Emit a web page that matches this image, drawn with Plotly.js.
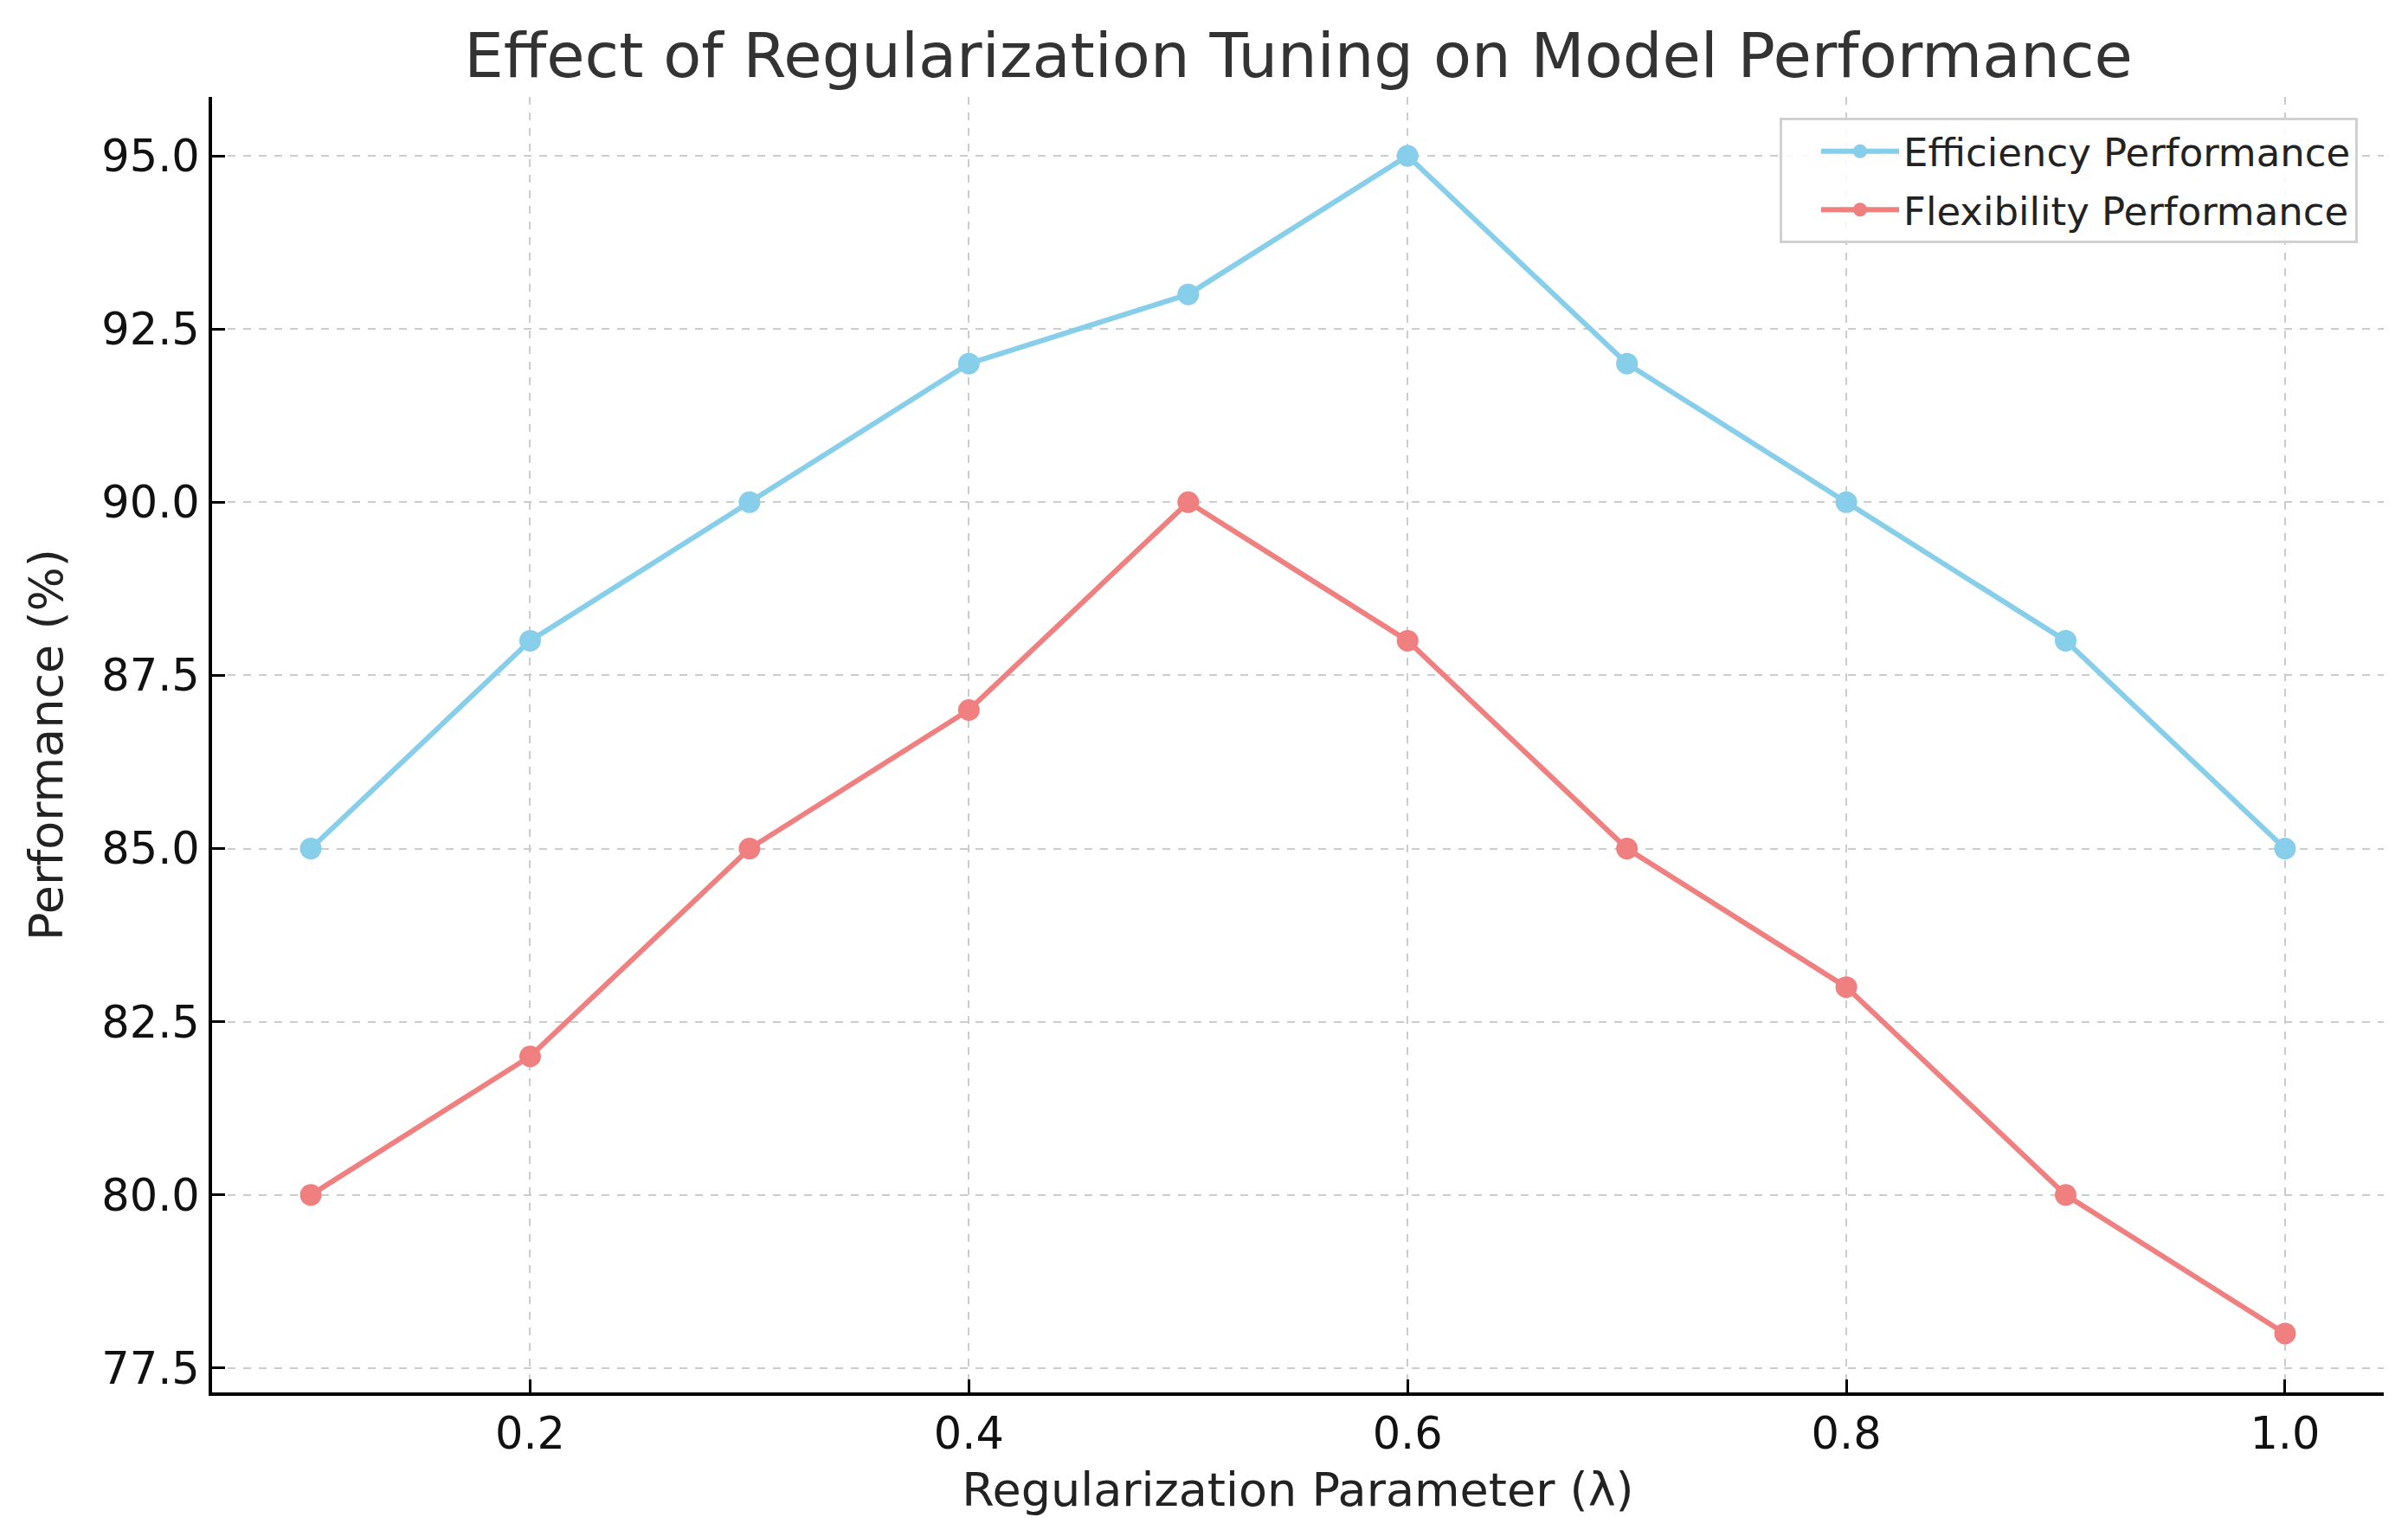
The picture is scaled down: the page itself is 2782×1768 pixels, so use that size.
<!DOCTYPE html>
<html>
<head>
<meta charset="utf-8">
<script src="https://cdn.plot.ly/plotly-3.0.1.min.js"></script>
<style>html,body{margin:0;padding:0;background:#fff;}#chart{width:2782px;height:1768px;}</style>
</head>
<body>
<div id="chart"></div>
<script>
const lambdaValues = [0.1, 0.2, 0.3, 0.4, 0.5, 0.6, 0.7, 0.8, 0.9, 1.0];
const efficiencyPerformance = [85, 88, 90, 92, 93, 95, 92, 90, 88, 85];
const flexibilityPerformance = [80, 82, 85, 87, 90, 88, 85, 83, 80, 78];
const seriesNames = ["Efficiency Performance", "Flexibility Performance"];
const xTickVals = [0.2, 0.4, 0.6, 0.8, 1.0];
const xTickText = ["0.2", "0.4", "0.6", "0.8", "1.0"];
const yTickVals = [77.5, 80, 82.5, 85, 87.5, 90, 92.5, 95];
const yTickText = ["77.5", "80.0", "82.5", "85.0", "87.5", "90.0", "92.5", "95.0"];

const FONT = "DejaVu Sans, sans-serif";

const traces = [
  {
    x: lambdaValues, y: efficiencyPerformance, name: seriesNames[0],
    type: "scatter", mode: "lines+markers", legendgroup: "a",
    line: {color: "#87CEEB", width: 6},
    marker: {color: "#87CEEB", size: 25}
  },
  {
    x: lambdaValues, y: flexibilityPerformance, name: seriesNames[1],
    type: "scatter", mode: "lines+markers", legendgroup: "b",
    line: {color: "#F08080", width: 6},
    marker: {color: "#F08080", size: 25}
  }
];

const axisCommon = {
  showline: true, linecolor: "#000", linewidth: 4,
  ticks: "inside", ticklen: 15, tickwidth: 3, tickcolor: "#000",
  showgrid: true, gridcolor: "#cccccc", gridwidth: 2, griddash: "dash",
  zeroline: false, mirror: false, automargin: false,
  tickfont: {family: FONT, size: 51, color: "#111"}
};

const layout = {
  width: 2782, height: 1768,
  paper_bgcolor: "#fff", plot_bgcolor: "#fff",
  margin: {l: 245, r: 28, t: 112, b: 159, pad: 0, autoexpand: false},
  title: {
    text: "Effect of Regularization Tuning on Model Performance",
    font: {family: FONT, size: 72, color: "#333"},
    x: 1500/2782, xanchor: "center", xref: "container",
    y: 1 - 64/1768, yanchor: "middle", yref: "container"
  },
  xaxis: Object.assign({}, axisCommon, {
    range: [0.055, 1.045], tickvals: xTickVals, ticktext: xTickText,
    title: {text: "Regularization Parameter (λ)", font: {family: FONT, size: 54, color: "#222"}, standoff: 18}
  }),
  yaxis: Object.assign({}, axisCommon, {
    range: [77.15, 95.85], tickvals: yTickVals, ticktext: yTickText,
    title: {text: "Performance (%)", font: {family: FONT, size: 54, color: "#222"}, standoff: 28}
  }),
  showlegend: true,
  legend: {
    x: (2724 - 245) / 2509, xref: "paper", xanchor: "right",
    y: 1 - (136 - 112) / 1497, yref: "paper", yanchor: "top",
    bgcolor: "rgba(255,255,255,0.85)", bordercolor: "#d0d0d0", borderwidth: 3,
    font: {family: FONT, size: 45, color: "#222"},
    tracegroupgap: 6, indentation: 40, itemwidth: 90, traceorder: "grouped"
  }
};

Plotly.newPlot("chart", traces, layout, {displayModeBar: false, staticPlot: true});
</script>
</body>
</html>
